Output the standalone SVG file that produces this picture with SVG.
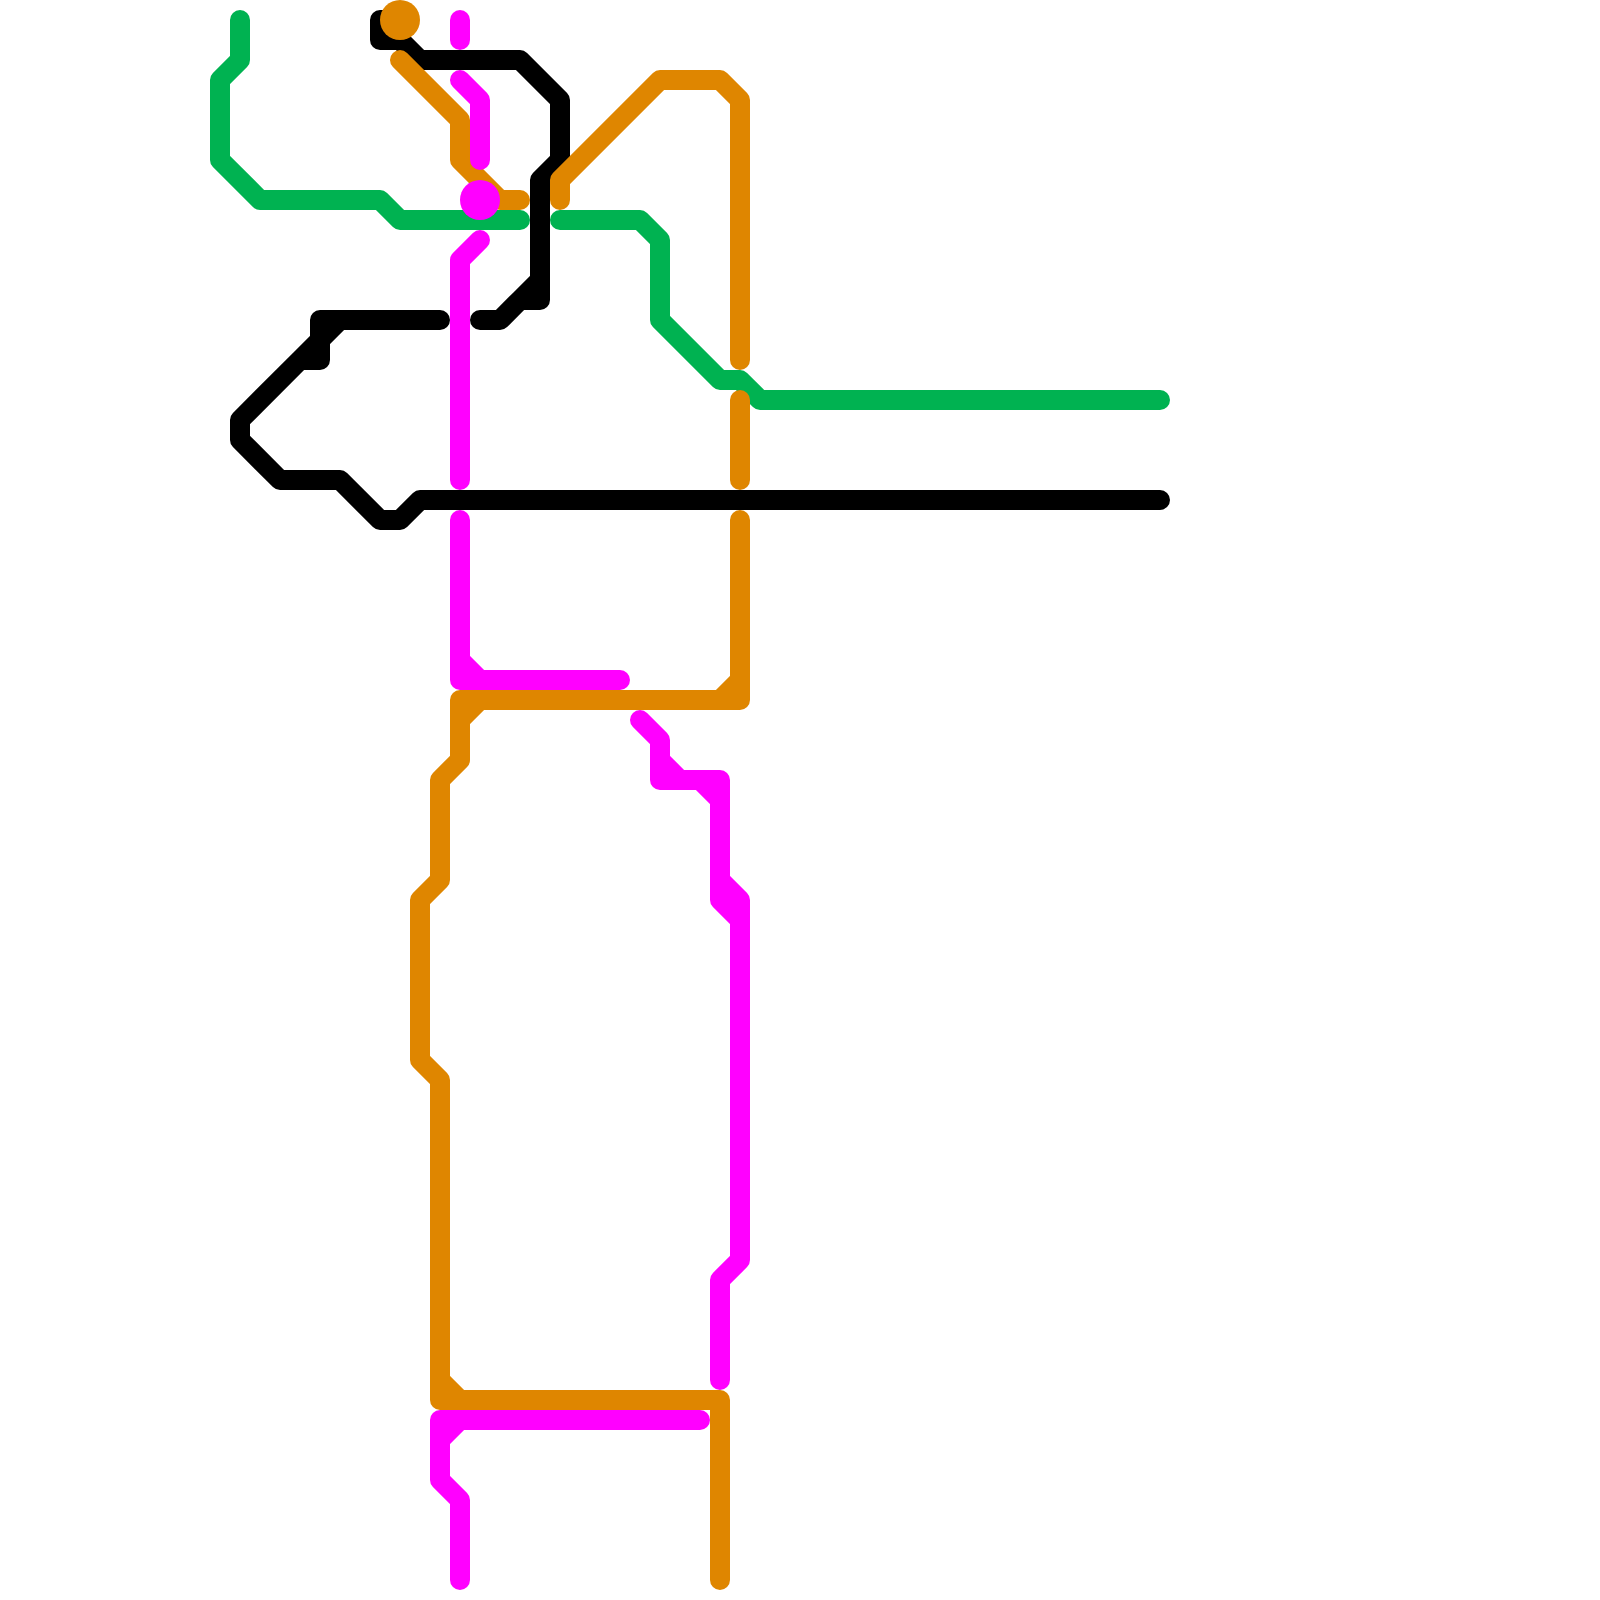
<svg xmlns="http://www.w3.org/2000/svg" width="1600" height="1600" viewBox="0 0 1600 1600">
<style>
.l{fill:none;stroke-width:20;stroke-linecap:round;stroke-linejoin:round}
.g{stroke:#00b251}
.k{stroke:#000}
.o{stroke:#df8600}
.m{stroke:#f0f}
</style>
<rect width="1600" height="1600" fill="#fff"/>
<g id="connectors">
<path class="l g" d="M240 20V60L220 80V160L260 200H380L400 220H520"/>
<path class="l g" d="M560 220H640L660 240V320L720 380H740L760 400H1160"/>
<path class="l k" d="M400 20H380V40H400L420 60H520L560 100V160L540 180V300H520L500 320H480M540 280L520 300"/>
<path class="l k" d="M440 320H320V360H300L240 420V440L280 480H340L380 520H400L420 500H1160M340 320L300 360"/>
<path class="l o" d="M400 60L460 120V160L500 200H520"/>
<path class="l o" d="M560 200V180L660 80H720L740 100V360"/>
<path class="l o" d="M740 400V480"/>
<path class="l o" d="M740 520V700H460V760L440 780V880L420 900V1060L440 1080V1400H720V1580M740 680L720 700M480 700L460 720M440 1380L460 1400"/>
<path class="l m" d="M460 20V40"/>
<path class="l m" d="M460 80L480 100V160"/>
<path class="l m" d="M480 240L460 260V480"/>
<path class="l m" d="M460 520V680H620M460 660L480 680"/>
<path class="l m" d="M640 720L660 740V780H720V880L740 900V1260L720 1280V1380M660 760L680 780M700 780L720 800M720 900L740 920M720 880V900"/>
<path class="l m" d="M700 1420H440V1480L460 1500V1580M460 1420L440 1440"/>
</g>
<g id="node-orange"><circle cx="400" cy="20" r="20" fill="#df8600"/></g>
<g id="node-magenta"><circle cx="480" cy="200" r="20" fill="#f0f"/></g>
</svg>
